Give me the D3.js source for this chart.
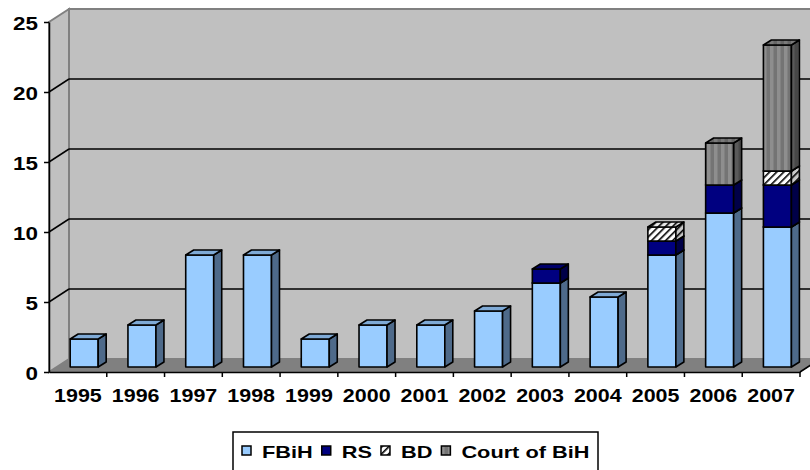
<!DOCTYPE html>
<html><head><meta charset="utf-8">
<script src="https://cdn.jsdelivr.net/npm/d3@7"></script>
<style>
html,body{margin:0;padding:0;background:#fff;}
svg{display:block;}
text{font-family:"Liberation Sans",Arial,sans-serif;font-weight:bold;fill:#000;}
</style></head>
<body>
<svg id="c" width="810" height="470"></svg>
<script>
const years = ["1995","1996","1997","1998","1999","2000","2001","2002","2003","2004","2005","2006","2007"];
const fbih  = [2,3,8,8,2,3,3,4,6,5,8,11,10];
const rs    = [0,0,0,0,0,0,0,0,1,0,1,2,3];
const bd    = [0,0,0,0,0,0,0,0,0,0,1,0,1];
const court = [0,0,0,0,0,0,0,0,0,0,0,3,9];
const seriesNames = ["FBiH","RS","BD","Court of BiH"];
const yTicks = [0,5,10,15,20,25];

const svg = d3.select("#c");
const defs = svg.append("defs");

function hatch(id, bg, line){
  const p = defs.append("pattern").attr("id",id).attr("patternUnits","userSpaceOnUse")
    .attr("width",5).attr("height",5).attr("patternTransform","rotate(45)");
  p.append("rect").attr("width",5).attr("height",5).attr("fill",bg);
  p.append("rect").attr("x",0).attr("width",1.6).attr("height",5).attr("fill",line);
}
hatch("hBD","#ffffff","#000");
hatch("hBDs","#c8c8c8","#000");
hatch("hBDt","#e8e8e8","#000");
function stripes(id, a, b){
  const p = defs.append("pattern").attr("id",id).attr("patternUnits","userSpaceOnUse")
    .attr("width",7).attr("height",7);
  p.append("rect").attr("width",7).attr("height",7).attr("fill",a);
  p.append("rect").attr("x",3.5).attr("width",3.5).attr("height",7).attr("fill",b);
}
stripes("sC","#8e8e8e","#747474");
stripes("sCs","#5a5a5a","#484848");
stripes("sCt","#7a7a7a","#666666");

const fills = [
  {front:"#99CCFF", side:"#4E6A8A", top:"#7FAAD6"},
  {front:"#000080", side:"#000048", top:"#00006A"},
  {front:"url(#hBD)", side:"url(#hBDs)", top:"url(#hBDt)"},
  {front:"url(#sC)", side:"url(#sCs)", top:"url(#sCt)"}
];
const legendFill = ["#99CCFF","#000080","url(#hBD)","url(#sC)"];

const x = d3.scaleBand().domain(years).range([49,800]).paddingInner(0).paddingOuter(0);
const y = d3.scaleLinear().domain([0,25]).range([372,22]);
const DX = 20, DY = -13;
const y0 = y(0), yTop = y(25);
const xL = 49, xR = 800;

svg.append("polygon")
  .attr("points",[[xL,y0],[xR,y0],[xR+DX,y0+DY],[xL+DX,y0+DY]].map(p=>p.join(",")).join(" "))
  .attr("fill","#808080").attr("stroke","#808080");
svg.append("rect").attr("x",xL+DX).attr("y",yTop+DY).attr("width",xR-xL+10).attr("height",y0-yTop)
  .attr("fill","#C0C0C0").attr("stroke","#808080").attr("stroke-width",2);
svg.append("polygon")
  .attr("points",[[xL,y0],[xL,yTop],[xL+DX,yTop+DY],[xL+DX,y0+DY]].map(p=>p.join(",")).join(" "))
  .attr("fill","#C0C0C0").attr("stroke","#808080").attr("stroke-width",2);
yTicks.filter(v=>v>0 && v<25).forEach(v=>{
  svg.append("line").attr("x1",xL+DX).attr("x2",xR+DX+10).attr("y1",y(v)+DY).attr("y2",y(v)+DY)
    .attr("stroke","#000").attr("stroke-width",1.5);
  svg.append("line").attr("x1",xL).attr("x2",xL+DX).attr("y1",y(v)).attr("y2",y(v)+DY)
    .attr("stroke","#000").attr("stroke-width",1.5);
});
svg.append("line").attr("x1",xR).attr("y1",y0).attr("x2",xR+DX).attr("y2",y0+DY).attr("stroke","#000").attr("stroke-width",1.5);

const bw = 28, fdx = 6.3, fdy = -5, bdx = 8, bdy = -5;
const stacks = years.map((yr,i)=>[fbih[i],rs[i],bd[i],court[i]]);
const gb = svg.append("g");
years.forEach((yr,i)=>{
  let cum = 0;
  stacks[i].forEach((v,s)=>{
    if(!v) return;
    const a = cum, b = cum+v; cum = b;
    const xl = x(yr) + (x.bandwidth()-bw)/2 + fdx, xr = xl + bw;
    const yb = y(a) + fdy, yt = y(b) + fdy;
    const f = fills[s];
    const poly = (pts, fill)=>{
      gb.append("polygon").attr("points",pts.map(q=>q.join(",")).join(" ")).attr("fill",fill)
        .attr("stroke","#000").attr("stroke-width",1.6).attr("stroke-linejoin","round");
    };
    poly([[xl,yb],[xr,yb],[xr,yt],[xl,yt]], f.front);
    poly([[xr,yb],[xr+bdx,yb+bdy],[xr+bdx,yt+bdy],[xr,yt]], f.side);
    poly([[xl,yt],[xr,yt],[xr+bdx,yt+bdy],[xl+bdx,yt+bdy]], f.top);
  });
});

const ya = svg.append("g").attr("transform",`translate(${xL},0)`)
  .call(d3.axisLeft(y).tickValues(yTicks).tickSize(5).tickSizeOuter(0));
ya.select(".domain").attr("stroke","#000").attr("stroke-width",1.5);
ya.selectAll(".tick line").attr("stroke","#000").attr("stroke-width",1.5);
ya.selectAll(".tick text").attr("x",0).attr("dy",null)
  .attr("transform","translate(-11,7) scale(1.18,1)")
  .style("font-size","19px").attr("text-anchor","end");

const xa = svg.append("g").attr("transform",`translate(0,${y0})`)
  .call(d3.axisBottom(x).tickSize(0).tickSizeOuter(0));
xa.select(".domain").attr("stroke","#000").attr("stroke-width",1.5);
xa.selectAll(".tick text").attr("y",0).attr("dy",null)
  .attr("transform","translate(0,30) scale(1.13,1)")
  .style("font-size","19px").attr("text-anchor","middle");
const bounds = years.map(yr=>x(yr)).concat([x(years[years.length-1])+x.bandwidth()]);
xa.selectAll(".bt").data(bounds.slice(1)).enter().append("line")
  .attr("x1",d=>d).attr("x2",d=>d).attr("y1",0).attr("y2",5)
  .attr("stroke","#000").attr("stroke-width",1.5);
d3.selectAll(".tick text").attr("fill","#000");
svg.selectAll("g text").style("font-family","'Liberation Sans',Arial,sans-serif").style("font-weight","bold");

// legend
const lg = svg.append("g");
lg.append("rect").attr("x",233).attr("y",432).attr("width",365).attr("height",60)
  .attr("fill","#fff").attr("stroke","#000").attr("stroke-width",1.5);
let lx = 242;
const ls = 1.28;
seriesNames.forEach((n,i)=>{
  lg.append("rect").attr("x",lx).attr("y",446).attr("width",9).attr("height",9)
    .attr("fill",legendFill[i]).attr("stroke","#000").attr("stroke-width",1.5);
  const t = lg.append("text").attr("transform",`translate(${lx+20},457.5) scale(${ls},1)`)
    .style("font-size","17px").style("font-weight","bold")
    .style("font-family","'Liberation Sans',Arial,sans-serif").text(n);
  const w = t.node().getComputedTextLength()*ls;
  lx += 20 + w + 9;
});
</script>
</body></html>
